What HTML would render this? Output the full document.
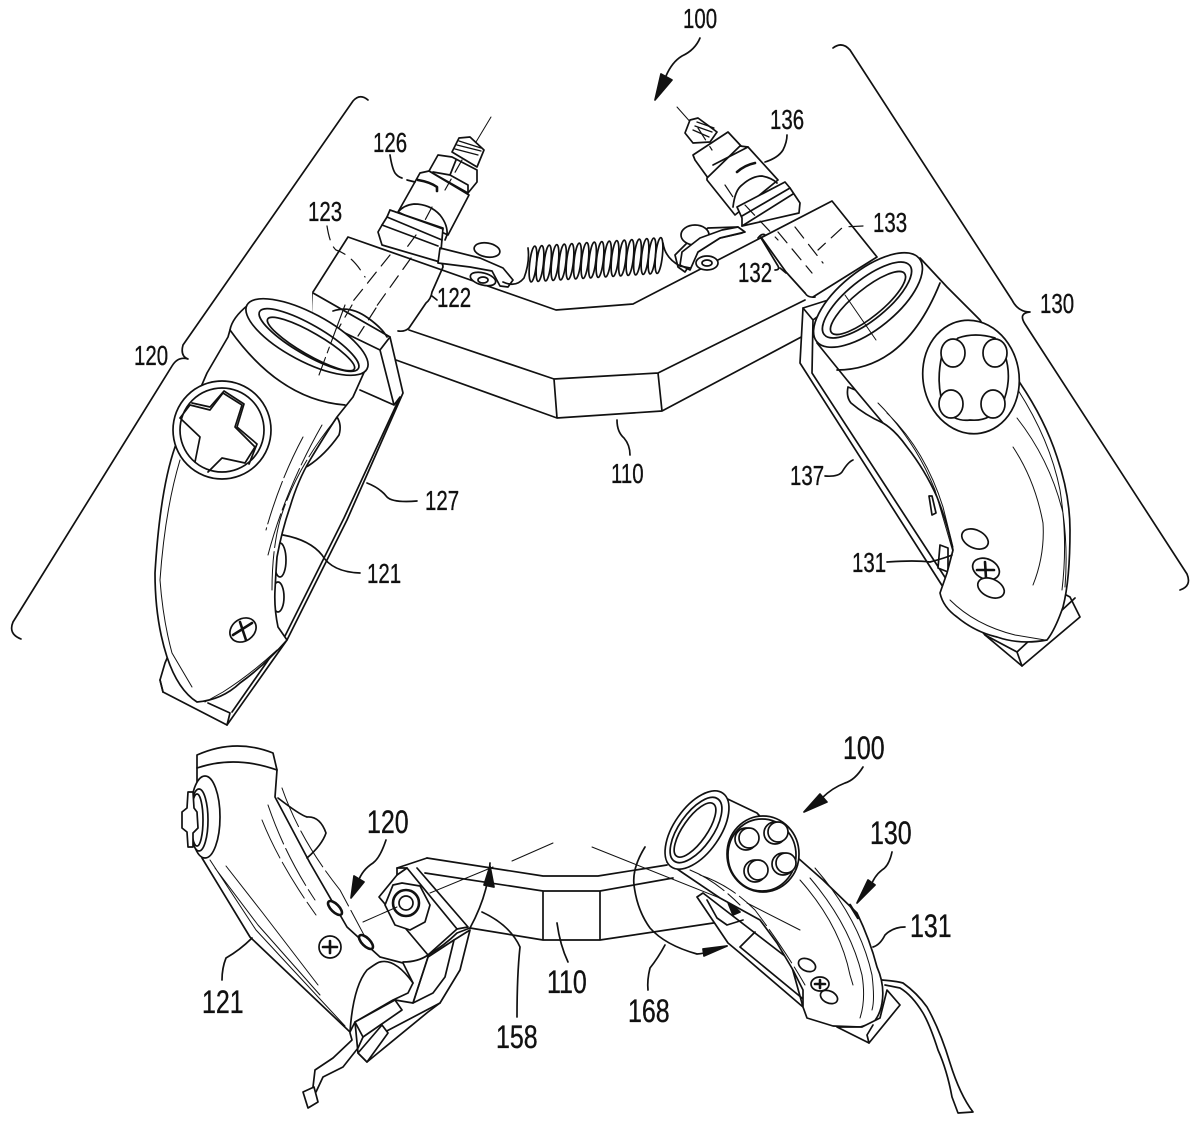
<!DOCTYPE html>
<html><head><meta charset="utf-8"><style>
html,body{margin:0;padding:0;background:#fff}
svg{display:block}
.a path,.a ellipse,.a circle,.a polygon,.a polyline,.a line{fill:none;stroke:#111;stroke-width:1.7;stroke-linejoin:round;stroke-linecap:round}
.a .w{fill:#fff}
.a .k{fill:#111}
.a .n{fill:#fff;stroke:none}
.a .t{stroke-width:1}
.a .d{stroke-width:1.2;stroke-dasharray:14 8}
.a .m{stroke-width:1.1;stroke-dasharray:40 5 6 5}
.a .h{stroke-width:2.6}
text{font-family:"Liberation Sans",sans-serif;fill:#111;stroke:#111;stroke-width:.35}
.s{font-size:28px}.b{font-size:32px}
</style></head><body>
<svg class="a" width="1200" height="1122" viewBox="0 0 1200 1122" xmlns="http://www.w3.org/2000/svg">
<defs><ellipse id="c" rx="3.4" ry="18" transform="rotate(6)"/></defs>

<!-- brackets -->
<path d="M368,100 Q360,93 353,101 L183,345 Q180,356 188,359 Q178,356 172,366 L13,622 Q8,634 21,639"/>
<path d="M833,48 Q842,41 850,50 L1012,300 Q1018,312 1030,312 Q1018,313 1025,324 L1187,574 Q1192,586 1180,590"/>

<!-- bar upper -->
<path class="n" d="M348,237 L556,310 L633,304 L832,201 L877,257 L805,293 L805,340 L662,411 L557,418 L396,360 L313,322 L313,292 Z"/>
<path d="M313,292 L348,237 L556,310 L633,304 L832,201 L877,257 L813,297"/>
<path d="M409,330 L554,379 L557,418 L396,360 M554,379 L658,373 L662,411 L557,418 M658,373 L805,300 M662,411 L805,335"/>
<path d="M761,237 L786,272 L805,293"/>
<path class="d" d="M390,255 L350,305 M411,258 L376,307 M778,232 L812,273 M795,227 L823,263"/>
<path class="d" d="M327,226 Q330,245 336,250 Q352,255 365,277 M863,226 L843,227 L818,250"/>
<path d="M438,262 Q443,262 443,267 L432,292 Q431,299 426,303 L409,328 Q405,332 398,331 M432,296 L437,300"/>
<path d="M758,238 Q762,233 765,235 M761,238 L778,266 Q780,270 775,270 M780,268 L786,273 M805,293 Q808,298 815,297"/>

<!-- left bolt -->
<line class="t" x1="491" y1="117" x2="470" y2="152"/>
<path class="w" d="M452,152 L459,138 L470,137 L484,150 L477,167 Z"/>
<path class="t h" style="stroke-width:1.3" d="M455,149 L478,155 M457,145 L481,151 M459,141 L481,148"/>
<path class="w" d="M429,171 L438,155 L452,157 L477,170 L477,182 L468,193 Z"/>
<path class="w" d="M420,173 L398,212 L448,235 L469,195 L429,171 Z"/>
<path d="M433,172 L450,175 L468,185 L468,193 M450,175 L456,160"/>
<path class="h" d="M418,180 Q430,182 437,187 L437,191"/>
<path d="M398,212 Q404,205 414,204 Q430,204 440,215 Q448,225 447,235 L445,240"/>
<path class="w" d="M390,210 L387,217 L382,225 L378,232 L382,245 L440,262 L443,228 Z"/>
<path d="M387,217 L442,240 M382,225 L438,246 M390,210 L443,229"/>
<path class="w" d="M440,248 L480,258 L503,268 L513,280 L508,287 L500,286 L492,271 L470,267 L438,263 Z"/>
<ellipse class="w" cx="487" cy="250" rx="13" ry="7" transform="rotate(10 487 250)"/>
<ellipse class="w" cx="483" cy="279" rx="13" ry="6" transform="rotate(15 483 279)"/>
<ellipse cx="483" cy="280" rx="5" ry="3"/>
<path d="M503,282 Q516,288 524,278 Q530,262 528,248"/>
<path class="d" d="M462,160 L445,190 M432,207 L424,222 M416,235 L405,250"/>
<path d="M390,155 Q392,168 395,173 Q398,177 402,178 M407,180 L415,182"/>

<!-- spring -->
<use href="#c" x="533" y="264"/><use href="#c" x="540" y="263.5"/><use href="#c" x="547.5" y="263"/><use href="#c" x="555" y="262.5"/><use href="#c" x="562.5" y="262"/><use href="#c" x="570" y="261.5"/><use href="#c" x="577.5" y="261"/><use href="#c" x="585" y="260.5"/><use href="#c" x="592.5" y="260"/><use href="#c" x="600" y="259.5"/><use href="#c" x="607.5" y="259"/><use href="#c" x="615" y="258.5"/><use href="#c" x="622.5" y="258"/><use href="#c" x="630" y="257.5"/><use href="#c" x="637.5" y="257"/><use href="#c" x="645" y="256.5"/><use href="#c" x="652" y="256"/><use href="#c" x="659" y="255.5"/>

<!-- right bolt -->
<line class="t" x1="677" y1="107" x2="693" y2="125"/>
<path class="w" d="M690,120 L698,118 L717,132 L710,142 L693,143 L685,133 Z"/>
<path style="stroke-width:1.3" d="M695,126 L712,132 M697,122 L714,128 M693,130 L709,137"/>
<path class="w" d="M693,155 L728,132 L742,147 L708,178 L695,160 Z"/>
<path class="w" d="M707,180 L735,215 L778,180 L748,147 L740,146 L707,178 Z"/>
<path d="M713,165 L748,147"/>
<path class="h" d="M737,172 Q745,165 755,163"/>
<path d="M733,207 Q735,190 742,185 Q752,176 762,176 Q772,178 777,183"/>
<path class="w" d="M737,207 L785,182 L790,188 L800,203 L799,213 L742,226 L742,218 Z"/>
<path d="M742,216 L790,188 M742,226 L793,194"/>
<path class="w" d="M738,227 L708,228 L690,240 L675,255 L678,267 L685,272 L698,252 L720,238 L742,233 Z"/>
<ellipse class="w" cx="695" cy="235" rx="14" ry="10"/>
<path class="w" d="M738,227 L722,230 L700,238 L682,252 L680,265 L690,270 L698,252 L720,238 L745,232 Z"/>
<ellipse class="w" cx="707" cy="263" rx="11" ry="7"/>
<ellipse cx="707" cy="263" rx="5" ry="3"/>
<path d="M663,243 Q665,258 680,266 L690,268"/>
<path class="d" d="M698,128 L712,150 M725,185 L735,200 M745,205 L778,240"/>
<path d="M765,162 Q778,158 783,150 Q787,142 787,135"/>

<!-- left plate -->
<path class="w" d="M313,293 L390,337 L403,393 L347,520 L287,640 L227,725 L163,692 L160,680 L165,663 L313,318 Z"/>
<path class="n" d="M313,292 L312,318 L380,350 L390,337 Z"/>
<path d="M313,293 L390,337 M312,317 L380,350 L390,337 M380,350 L394,405 M360,390 L394,405 L400,397 L344,518 L285,636 L232,712 M208,703 L230,713 L227,725 M160,680 L163,692"/>
<path d="M333,311 Q350,305 368,318 Q382,328 387,337"/>
<line class="d" x1="352" y1="305" x2="330" y2="343"/>
<line class="d" x1="376" y1="308" x2="358" y2="336"/>
<!-- left grip -->
<path class="w" d="M337,417 Q342,425 339,435 Q325,455 308,466 L300,470 Z"/>
<ellipse class="w" cx="280" cy="560" rx="6" ry="17"/>
<ellipse class="w" cx="278" cy="597" rx="6" ry="15"/>
<path class="w" d="M248,305 Q232,318 230,330 L228,337 L207,373 L175,447 Q160,490 155,573 Q155,620 167,657 Q178,690 197,702 Q222,700 240,683 Q265,665 287,640 L278,627 Q274,608 275,590 Q276,570 277,557 Q282,530 290,507 Q298,480 310,460 Q325,435 337,417 L353,397 L366,368 Z"/>
<path d="M230,330 Q280,400 345,405"/>
<path class="t" d="M180,460 Q165,510 160,580 Q163,620 172,653 L192,687"/>
<path class="t" stroke-dasharray="45 4" d="M322,425 Q285,490 268,555 M303,437 Q280,480 266,530 M335,420 Q295,470 280,520 Q272,550 272,590"/>
<path class="t" d="M277,650 Q250,675 223,692 L205,702"/>
<ellipse class="w" cx="307" cy="337" rx="68" ry="24" transform="rotate(28 307 337)"/>
<ellipse cx="309" cy="340" rx="57" ry="15" transform="rotate(30 309 340)"/>
<ellipse cx="311" cy="344" rx="50" ry="11" transform="rotate(30 311 344)"/>
<line class="m" x1="345" y1="305" x2="319" y2="375"/>
<ellipse class="w" cx="222" cy="430" rx="49" ry="49"/>
<ellipse cx="222" cy="430" rx="42" ry="42"/>
<path d="M180,418 L190,405 L210,410 L223,393 L242,405 L235,427 L255,447 L245,463 L222,458 L208,472 M195,462 L200,437 L180,418"/>
<path d="M192,403 L210,407 L224,391 L244,404 L237,427 L257,444 L249,464"/>
<ellipse class="w" cx="243" cy="630" rx="14" ry="11" transform="rotate(-35 243 630)"/>
<path class="h" d="M233,635 L252,623 M240,622 L246,640"/>
<!-- left leaders -->
<path d="M367,483 Q380,488 387,497 Q393,503 417,501"/>
<path d="M283,535 Q310,540 322,555 Q332,572 360,573"/>

<!-- right plate -->
<path class="w" d="M803,308 L800,363 L943,587 L985,635 L1022,666 L1080,617 L1070,597 L1000,560 L860,290 Z"/>
<path d="M803,308 L813,320 L812,373 L950,585 M985,635 L1017,652 L1075,598 M1017,652 L1022,666 M813,320 L845,296"/>
<!-- right grip -->
<path class="w" d="M848,387 Q846,397 851,403 Q865,415 883,423 L880,400 Z"/>
<path class="w" d="M929,496 L932,515 L936,513 L932,496 Z M940,545 L938,568 L948,572 L948,548 Z"/>
<path class="w" d="M920,258 L947,287 L980,320 L1020,383 Q1045,420 1057,457 Q1070,495 1070,530 Q1070,580 1063,607 Q1055,630 1047,640 Q1020,645 997,637 Q975,632 957,617 Q943,607 940,593 L947,573 L953,550 Q948,525 937,497 Q925,470 907,447 Q895,430 883,423 L847,380 L817,343 Z"/>
<path d="M837,370 Q905,370 940,283"/>
<path class="t" d="M1018,390 Q1050,440 1060,490 Q1068,540 1062,590 M1017,418 Q1050,460 1063,513 Q1068,550 1065,587 M1013,447 Q1035,480 1043,523 Q1045,555 1033,585"/>
<path class="t" d="M878,403 Q915,440 935,490 L953,552 M887,413 Q925,450 943,507 L953,547"/>
<path class="t" d="M950,600 Q975,625 1015,635 L1045,640"/>
<ellipse class="w" cx="868" cy="300" rx="66" ry="29" transform="rotate(-39 868 300)"/>
<ellipse cx="867" cy="300" rx="55" ry="20" transform="rotate(-39 867 300)"/>
<ellipse cx="868" cy="303" rx="47" ry="14" transform="rotate(-39 868 303)"/>
<line class="t" x1="845" y1="295" x2="876" y2="340"/>
<ellipse class="w" cx="971" cy="377" rx="48" ry="57" transform="rotate(-10 971 377)"/>
<path d="M958,338 Q975,332 995,338 L1005,355 Q1013,380 1002,405 Q990,422 970,420 Q955,422 945,410 Q935,385 942,355 Z"/>
<ellipse class="w" cx="953" cy="353" rx="12" ry="14"/>
<ellipse class="w" cx="995" cy="353" rx="12" ry="14"/>
<ellipse class="w" cx="951" cy="404" rx="12" ry="14"/>
<ellipse class="w" cx="993" cy="404" rx="12" ry="14"/>
<ellipse cx="975" cy="539" rx="14" ry="9" transform="rotate(25 975 539)"/>
<ellipse class="w" cx="986" cy="569" rx="14" ry="10" transform="rotate(25 986 569)"/>
<path class="h" d="M977,570 L994,570 M985,562 L986,578"/>
<ellipse class="w" cx="991" cy="588" rx="14" ry="9" transform="rotate(25 991 588)"/>
<path d="M825,476 Q838,477 842,472 Q848,462 853,460"/>
<path d="M887,562 Q915,560 930,562 Q945,558 952,555"/>

<!-- top leaders -->
<path d="M700,38 Q695,50 682,56 Q672,62 666,76"/>
<path class="k" d="M655,100 L661,74 L672,80 Z"/>
<path d="M617,420 Q617,432 624,438 Q630,445 630,455"/>

<!-- lower: bar -->
<path d="M427,858 L543,876 L598,876 L667,865 M425,873 L543,891 L600,891 L673,878 M470,928 L543,940 L600,940 L720,922 M543,891 L543,940 M600,891 L600,940"/>
<!-- lower left block -->
<path class="w" d="M397,868 L397,875 L379,897 L428,955 L457,929 L407,868 Z"/>
<path d="M397,868 L427,858 M407,868 L397,875 M417,868 L468,927 L457,929"/>
<path class="w" d="M393,885 L402,883 L420,886 L430,905 L425,922 L410,930 L395,925 L385,905 Z"/>
<ellipse cx="406" cy="903" rx="13" ry="13" class="h"/>
<circle cx="406" cy="903" r="7"/>
<line class="t" x1="363" y1="922" x2="397" y2="907"/>
<line class="t" x1="430" y1="893" x2="493" y2="867"/>
<line class="t" x1="512" y1="861" x2="553" y2="843"/>
<line class="t" x1="592" y1="847" x2="800" y2="930"/>
<!-- left lower plates -->
<path class="w" d="M470,930 L460,970 L440,1003 L428,1012 L367,1062 L358,1053 L355,1022 L395,1000 L413,1003 L428,957 L454,940 Z"/>
<path d="M428,957 L413,1003 M454,940 L445,977 L433,993 L413,1003 M440,1003 L383,1033"/>
<!-- left lower grip -->
<path class="w" d="M197,755 Q235,738 273,753 L277,770 L275,797 L310,863 L347,927 L380,957 L403,963 L413,983 L408,993 L393,1000 L355,1022 L350,1032 L250,937 L202,858 L197,818 Z"/>
<path d="M197,768 Q235,755 277,770"/>
<path d="M278,798 Q300,815 307,817 Q320,816 326,833 Q322,845 307,858"/>
<path d="M350,1032 Q353,987 367,970 Q378,962 380,962 Q395,958 413,983"/>
<path d="M403,962 Q418,962 428,955 Q445,945 457,933 L470,928"/>
<path class="t" d="M210,860 L256,930 L345,1026 M215,868 L258,925 L320,995 M226,866 L262,912 L318,985"/>
<path class="t" stroke-dasharray="42 5" d="M268,805 Q285,855 315,900 M262,820 Q280,865 316,915"/>
<path class="t" stroke-dasharray="42 5" d="M282,788 Q300,840 340,890 L372,950"/>
<ellipse class="w h" cx="335" cy="908" rx="9" ry="4" transform="rotate(45 335 908)"/>
<ellipse class="w h" cx="366" cy="942" rx="9" ry="4" transform="rotate(45 366 942)"/>
<circle class="w" cx="330" cy="947" r="11"/>
<path class="h" d="M323,947 L337,947 M330,941 L330,953"/>
<ellipse class="w" cx="205" cy="817" rx="15" ry="41"/>
<ellipse class="w" cx="199" cy="820" rx="9" ry="31"/>
<ellipse cx="197" cy="820" rx="6" ry="26"/>
<path class="w" d="M188,792 L193,792 L194,808 L197,812 L198,828 L193,833 L193,847 L188,847 L187,832 L182,828 L182,812 L187,808 Z"/>
<!-- left lower foot/cable -->
<path class="w" d="M355,1022 L395,1000 L402,1010 L363,1037 Z"/>
<path class="w" d="M358,1053 L382,1025 L388,1033 L367,1062 Z"/>
<path d="M350,1033 L352,1040 L333,1058 L315,1070 L313,1087 M363,1037 L358,1048 L343,1067 L323,1077 L316,1092"/>
<path class="w" d="M303,1092 L314,1087 L318,1102 L308,1108 Z"/>
<!-- 158 arrow -->
<path d="M490,863 Q488,895 470,928"/>
<path class="k" d="M490,866 L494,887 L484,885 Z"/>
<path d="M482,912 Q510,925 520,947 Q517,975 517,1017"/>
<path d="M557,923 Q560,945 568,962"/>
<path d="M252,938 Q240,950 226,958 Q222,968 222,980"/>
<path d="M386,840 Q380,858 373,863 Q362,870 358,882"/>
<path class="k" d="M351,898 L354,876 L364,882 Z"/>

<!-- lower right plate -->
<path class="w" d="M697,897 L703,893 L790,960 L803,1007 L740,953 L728,943 Z"/>
<path d="M740,947 L755,932 M707,900 L717,918 L727,925 L743,920 M740,947 L808,1003"/>
<path class="k" d="M727,900 L740,912 L733,915 Z"/>
<!-- lower right grip -->
<path class="w" d="M667,862 L713,792 L757,813 L798,858 L823,880 L857,913 Q870,940 877,967 Q885,985 882,1003 Q880,1015 873,1023 L860,1027 L833,1026 L807,1018 L803,1007 L803,990 L793,970 L777,943 L760,920 L720,898 L683,873 Z"/>
<path class="h" d="M850,905 L858,918"/>
<path class="t" d="M810,878 Q850,925 862,975 Q866,1000 860,1018 M800,880 Q840,925 850,975 L853,985 M815,868 Q860,920 872,975 Q875,1000 872,1010"/>
<path class="t" stroke-dasharray="40 5" d="M700,875 Q730,885 755,910 Q785,950 805,985 M690,870 Q715,880 740,905"/>
<ellipse class="w" cx="697" cy="830" rx="45" ry="23" transform="rotate(-55 697 830)"/>
<ellipse cx="696" cy="830" rx="38" ry="17" transform="rotate(-55 696 830)"/>
<ellipse cx="695" cy="830" rx="32" ry="12" transform="rotate(-55 695 830)"/>
<ellipse class="w" cx="763" cy="854" rx="36" ry="38"/>
<ellipse cx="762" cy="855" rx="34" ry="36"/>
<circle class="w" cx="746" cy="839" r="11"/><circle class="w" cx="749" cy="838" r="10"/>
<circle class="w" cx="775" cy="833" r="11"/><circle class="w" cx="778" cy="832" r="10"/>
<circle class="w" cx="755" cy="871" r="11"/><circle class="w" cx="758" cy="870" r="10"/>
<circle class="w" cx="783" cy="864" r="11"/><circle class="w" cx="786" cy="863" r="10"/>
<ellipse cx="807" cy="965" rx="9" ry="6" transform="rotate(25 807 965)"/>
<ellipse class="w" cx="820" cy="984" rx="9" ry="7"/>
<path class="h" d="M815,984 L825,984 M820,980 L820,988"/>
<ellipse cx="829" cy="997" rx="9" ry="6" transform="rotate(25 829 997)"/>
<line class="t" x1="747" y1="903" x2="800" y2="930"/>
<!-- foot / wire -->
<path class="w" d="M837,1027 L869,1043 L900,1005 L887,990 L880,1018 L862,1027 Z"/>
<path d="M867,1035 L873,1025 M869,1043 L867,1035"/>
<path d="M882,980 Q895,981 903,983 Q917,993 927,1007 Q940,1030 950,1063 Q960,1095 973,1112 L958,1113 L952,1097 Q947,1070 938,1050 Q930,1025 923,1013 Q912,995 900,988 L885,985"/>
<!-- 168 arrow -->
<path d="M645,847 Q632,868 634,885 Q637,910 650,928 Q665,945 697,954 Q710,953 727,946"/>
<path class="k" d="M703,949 L727,946 L704,956 Z"/>
<path d="M665,945 Q658,958 650,968 Q647,980 648,990"/>
<path d="M863,767 Q855,780 845,783 Q832,788 822,798"/>
<path class="k" d="M804,812 L820,794 L827,802 Z"/>
<path d="M892,852 Q889,866 882,870 Q874,876 870,888"/>
<path class="k" d="M857,903 L868,880 L875,885 Z"/>
<path d="M905,927 Q893,927 885,935 Q880,945 873,947"/>

<!-- labels -->
<g>
<text class="s" transform="translate(683,28) scale(.73,1)">100</text>
<text class="s" transform="translate(373,152) scale(.73,1)">126</text>
<text class="s" transform="translate(770,129) scale(.73,1)">136</text>
<text class="s" transform="translate(308,221) scale(.73,1)">123</text>
<text class="s" transform="translate(437,307) scale(.73,1)">122</text>
<text class="s" transform="translate(738,282) scale(.73,1)">132</text>
<text class="s" transform="translate(873,232) scale(.73,1)">133</text>
<text class="s" transform="translate(134,365) scale(.73,1)">120</text>
<text class="s" transform="translate(1040,313) scale(.73,1)">130</text>
<text class="s" transform="translate(611,483) scale(.73,1)">110</text>
<text class="s" transform="translate(425,510) scale(.73,1)">127</text>
<text class="s" transform="translate(367,583) scale(.73,1)">121</text>
<text class="s" transform="translate(790,485) scale(.73,1)">137</text>
<text class="s" transform="translate(852,572) scale(.73,1)">131</text>
<text class="b" transform="translate(367,833) scale(.78,1)">120</text>
<text class="b" transform="translate(202,1013) scale(.78,1)">121</text>
<text class="b" transform="translate(547,993) scale(.78,1)">110</text>
<text class="b" transform="translate(496,1048) scale(.78,1)">158</text>
<text class="b" transform="translate(843,759) scale(.78,1)">100</text>
<text class="b" transform="translate(870,844) scale(.78,1)">130</text>
<text class="b" transform="translate(910,937) scale(.78,1)">131</text>
<text class="b" transform="translate(628,1022) scale(.78,1)">168</text>
</g>
</svg>
</body></html>
